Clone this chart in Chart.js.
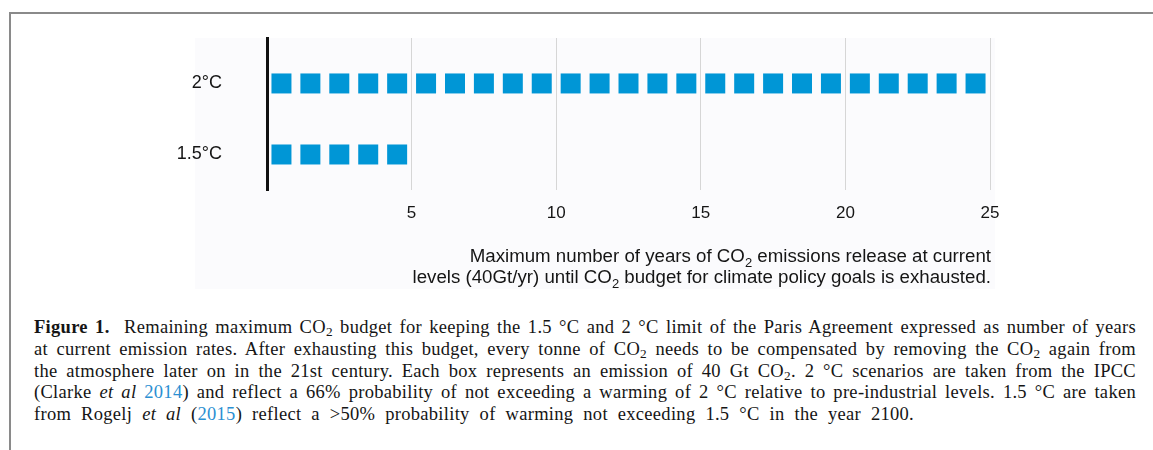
<!DOCTYPE html>
<html>
<head>
<meta charset="utf-8">
<script src="https://cdn.jsdelivr.net/npm/chart.js@4"></script>
<style>
  html, body { margin: 0; padding: 0; background: #fff; }
  body { width: 1153px; height: 450px; position: relative; overflow: hidden; }
  #frame { position: absolute; left: 9px; top: 12px; width: 1150px; height: 450px;
           border-top: 2px solid #8a8a8a; border-left: 2px solid #8a8a8a; }
  #panel { position: absolute; left: 195px; top: 38px; width: 800px; height: 251px; background: #fbfbfd; }
  #wrap { position: absolute; left: 0; top: 0; width: 1153px; height: 300px; }
  #caption { position: absolute; left: 34px; top: 317px; width: 1102px;
             font-family: "Liberation Serif", "Times New Roman", serif; font-size: 18.5px;
             letter-spacing: 0.3px; line-height: 21.8px; color: #151515; }
  #caption .ln { white-space: nowrap; text-align: justify; text-align-last: justify; }
  #caption .last { text-align: left; text-align-last: left; word-spacing: 5px; }
  #caption sub { font-size: 0.72em; vertical-align: -0.25em; line-height: 0; }
  #caption a { color: #2b8fd2; text-decoration: none; }
</style>
</head>
<body>
<div id="frame"></div>
<div id="panel"></div>
<div id="wrap"><canvas id="c" width="1153" height="300"></canvas></div>
<div id="caption">
  <div class="ln"><b>Figure 1.</b>&nbsp; Remaining maximum CO<sub>2</sub> budget for keeping the 1.5 °C and 2 °C limit of the Paris Agreement expressed as number of years</div>
  <div class="ln">at current emission rates. After exhausting this budget, every tonne of CO<sub>2</sub> needs to be compensated by removing the CO<sub>2</sub> again from</div>
  <div class="ln">the atmosphere later on in the 21st century. Each box represents an emission of 40 Gt CO<sub>2</sub>. 2 °C scenarios are taken from the IPCC</div>
  <div class="ln">(Clarke <i>et al</i> <a>2014</a>) and reflect a 66% probability of not exceeding a warming of 2 °C relative to pre-industrial levels. 1.5 °C are taken</div>
  <div class="ln last">from Rogelj <i>et al</i> (<a>2015</a>) reflect a &gt;50% probability of warming not exceeding 1.5 °C in the year 2100.</div>
</div>
<script>
// ---- data ----
const categories = ['2°C', '1.5°C'];          // climate goal
const goalLevels = [2, 1.5];                   // warming limit (°C) of each row
const budgetYears = [25, 5];                   // number of 40 Gt boxes (years) per goal
const xTickValues = [5, 10, 15, 20, 25];
const axisTitleLines = [
  [['Maximum number of years of CO', false], ['2', true], [' emissions release at current', false]],
  [['levels (40Gt/yr) until CO', false], ['2', true], [' budget for climate policy goals is exhausted.', false]]
];

// one box per year of budget, centred in each year slot
const boxPoints = [];
categories.forEach((c, k) => {
  for (let i = 0; i < budgetYears[k]; i++) boxPoints.push({ x: i + 0.5, y: goalLevels[k] });
});

const FONT = '"Liberation Sans", Arial, sans-serif';

const axisTitlePlugin = {
  id: 'axisTitle',
  afterDraw(chart) {
    const ctx = chart.ctx;
    const right = chart.scales.x.right + 1;
    const baselines = [262, 283];
    const size = 18.7, subSize = 13;
    ctx.save();
    ctx.fillStyle = '#151515';
    ctx.textBaseline = 'alphabetic';
    ctx.textAlign = 'left';
    axisTitleLines.forEach((runs, li) => {
      let w = 0;
      runs.forEach(([t, sub]) => { ctx.font = (sub ? subSize : size) + 'px ' + FONT; w += ctx.measureText(t).width; });
      let x = right - w;
      runs.forEach(([t, sub]) => {
        ctx.font = (sub ? subSize : size) + 'px ' + FONT;
        ctx.fillText(t, x, baselines[li] + (sub ? 5 : 0));
        x += ctx.measureText(t).width;
      });
    });
    ctx.restore();
  }
};

new Chart(document.getElementById('c'), {
  type: 'scatter',
  data: {
    datasets: [{
      data: boxPoints,
      pointStyle: 'rect',
      pointRadius: 14.14,
      pointHoverRadius: 14.14,
      pointBorderWidth: 0,
      backgroundColor: '#0096d6',
      borderColor: '#0096d6'
    }]
  },
  options: {
    responsive: false,
    animation: false,
    events: [],
    devicePixelRatio: 1,
    layout: { padding: { left: 0, top: 38, right: 163, bottom: 0 } },
    plugins: { legend: { display: false }, tooltip: { enabled: false } },
    scales: {
      x: {
        type: 'linear', min: 0, max: 25,
        afterBuildTicks(s) { s.ticks = xTickValues.map(v => ({ value: v })); },
        afterFit(s) { s.height = 110; s.paddingLeft = 0; s.paddingRight = 0; },
        grid: { color: '#d6d6d6', lineWidth: 1, drawTicks: false },
        border: { display: false },
        ticks: { color: '#151515', font: { family: FONT, size: 17 }, padding: 13, maxRotation: 0, autoSkip: false }
      },
      y: {
        type: 'linear', min: 1.25, max: 2.32,
        afterBuildTicks(s) { s.ticks = goalLevels.map(v => ({ value: v })); },
        afterFit(s) { s.width = 267; s.paddingTop = 0; s.paddingBottom = 0; },
        grid: { display: false, drawTicks: false },
        border: { display: true, color: '#111', width: 3 },
        ticks: {
          color: '#151515', font: { family: FONT, size: 18 }, padding: 45,
          callback: (v) => categories[goalLevels.indexOf(v)]
        }
      }
    }
  },
  plugins: [axisTitlePlugin]
});
</script>
</body>
</html>
